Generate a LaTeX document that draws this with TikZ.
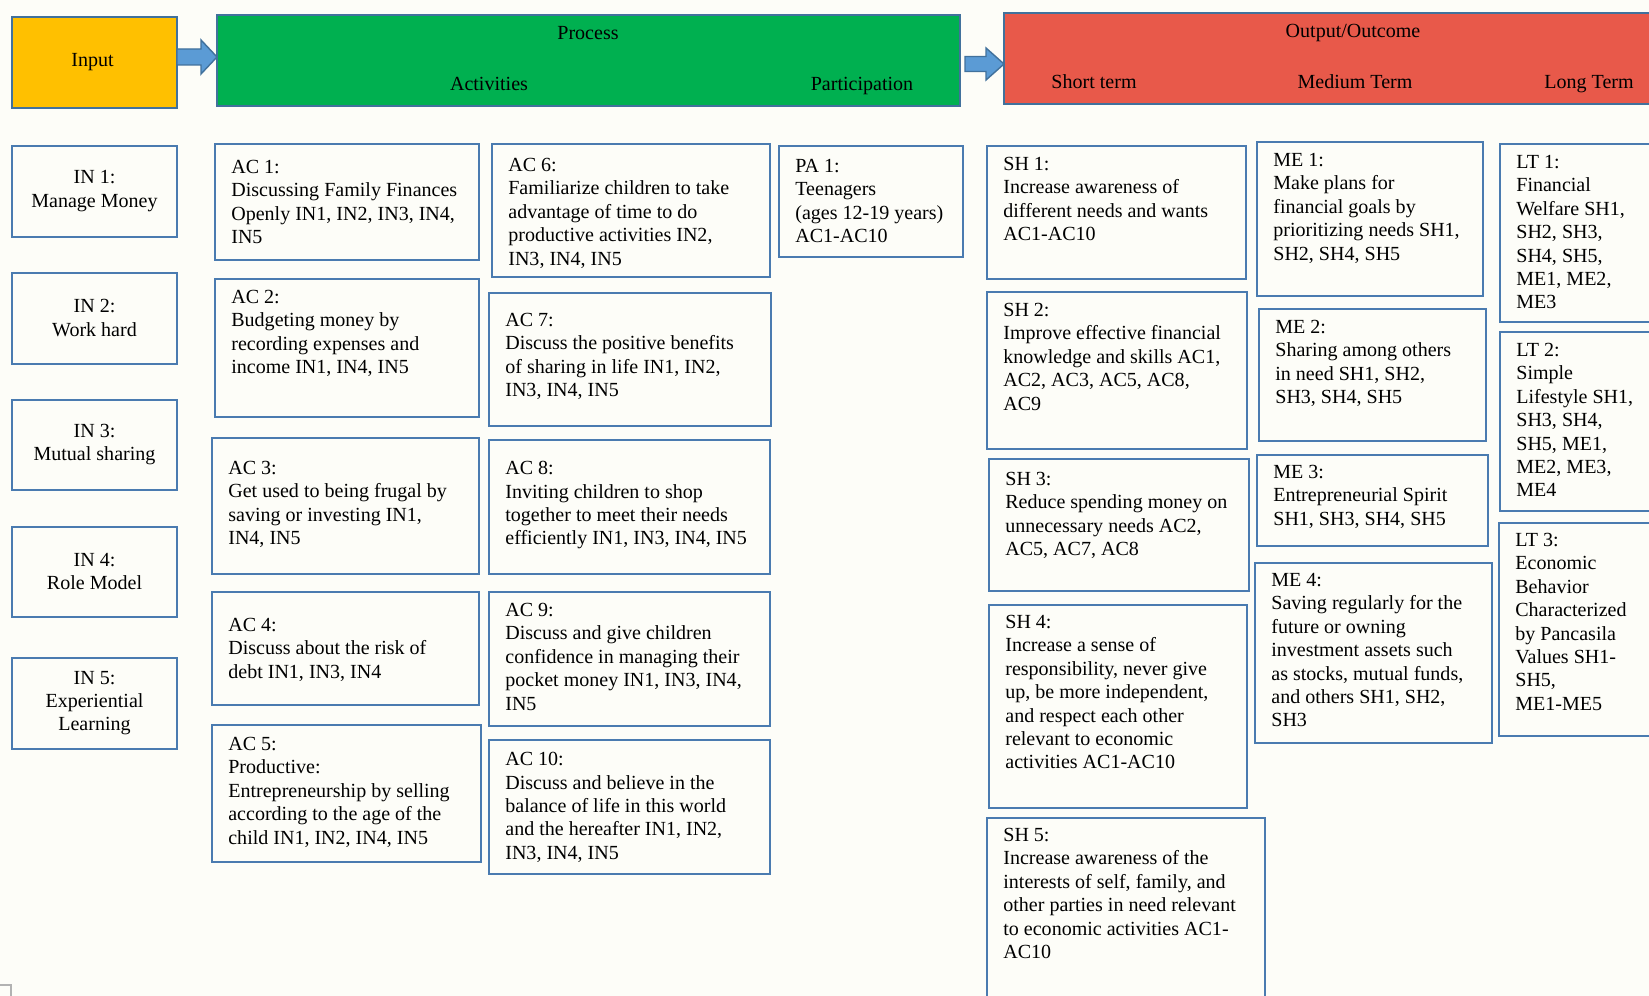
\documentclass[tikz,border=0pt]{standalone}
\usepackage{fontspec}
\setmainfont{Liberation Serif}
\usetikzlibrary{fit,calc}
\definecolor{bg}{HTML}{FDFDF8}
\definecolor{bxblue}{HTML}{4A7BB0}
\definecolor{hdborder}{HTML}{41719C}
\definecolor{inorange}{HTML}{FFC000}
\definecolor{prgreen}{HTML}{00B050}
\definecolor{outred}{HTML}{E8594A}
\definecolor{arrowfill}{HTML}{5B9BD5}
\newcommand\fs{\fontsize{11.4}{13.3}\selectfont}
\tikzset{
  frame/.style={draw=bxblue, line width=1.1pt, inner sep=0pt, outer sep=0pt},
  header/.style={draw=hdborder, line width=1.1pt, inner sep=0pt, outer sep=0pt},
  txt/.style={inner sep=0pt, align=left, anchor=north west, font=\fs},
  ctxt/.style={inner sep=0pt, align=center, font=\fs},
  blockarrow/.style={fill=arrowfill, draw=hdborder, line width=0.8pt, line join=miter},
}
\newcommand\tb[7]{%
  \node[frame, fit={(#2,#3) (#4,#5)}] (#1) {};
  \node[txt] (#1-t) at ([shift={(16,#6)}]#1.north west) {#7};
}
\newcommand\inb[4]{%
  \node[frame, fit={(12,#2) (177,#3)}] (#1) {};
  \node[ctxt] (#1-t) at ([yshift=0.01cm]#1.center) {#4};
}
\begin{document}
\begin{tikzpicture}[x=0.02cm, y=-0.02cm]
\useasboundingbox (0,0) rectangle (1649,996);
\fill[bg] (0,0) rectangle (1649,996);
\clip (0,0) rectangle (1649,996);

% headers
\node[header, fill=inorange, fit={(12,17) (177,108)}] (inp) {};
\node[ctxt] (inp-t) at ([xshift=-0.04cm]inp.center) {Input};
\node[header, fill=prgreen, fit={(217,15) (960,106)}] (proc) {};
\node[ctxt] (proc-t) at (588,33) {Process};
\node[ctxt] (act-t) at (489,84) {Activities};
\node[ctxt] (part-t) at (862,86) {Participation};
\node[header, fill=outred, fit={(1004,13) (1700,104)}] (outc) {};
\node[ctxt] (outc-t) at (1353,33) {Output/Outcome};
\node[ctxt] (st-t) at (1094,82) {Short term};
\node[ctxt] (mt-t) at (1355,82) {Medium Term};
\node[ctxt] (lt-t) at (1589,84) {Long Term};

% block arrows
\filldraw[blockarrow] (inp.east) ++(0,-5.5) ++(0,-8) -- ++(24,0) -- ++(0,-9) -- ++(16,17) -- ++(-16,17) -- ++(0,-9) -- ++(-24,0) -- cycle;
\filldraw[blockarrow] (proc.east) ++(5,3.5) ++(0,-7.5) -- ++(21,0) -- ++(0,-8.5) -- ++(18,16) -- ++(-18,16) -- ++(0,-8.5) -- ++(-21,0) -- cycle;

% input column
\inb{in1}{146}{237}{IN 1:\\Manage Money}
\inb{in2}{273}{364}{IN 2:\\Work hard}
\inb{in3}{400}{490}{IN 3:\\Mutual sharing}
\inb{in4}{527}{617}{IN 4:\\Role Model}
\inb{in5}{658}{749}{IN 5:\\Experiential\\Learning}

% activities
\tb{ac1}{215}{144}{479}{260}{16}{AC 1:\\Discussing Family Finances\\Openly IN1, IN2, IN3, IN4,\\IN5}
\tb{ac2}{215}{279}{479}{417}{11}{AC 2:\\Budgeting money by\\recording expenses and\\income IN1, IN4, IN5}
\tb{ac3}{212}{438}{479}{574}{23}{AC 3:\\Get used to being frugal by\\saving or investing IN1,\\IN4, IN5}
\tb{ac4}{212}{592}{479}{705}{26}{AC 4:\\Discuss about the risk of\\debt IN1, IN3, IN4}
\tb{ac5}{212}{725}{481}{862}{12}{AC 5:\\Productive:\\Entrepreneurship by selling\\according to the age of the\\child IN1, IN2, IN4, IN5}
\tb{ac6}{492}{144}{770}{277}{14}{AC 6:\\Familiarize children to take\\advantage of time to do\\productive activities IN2,\\IN3, IN4, IN5}
\tb{ac7}{489}{293}{771}{426}{20}{AC 7:\\Discuss the positive benefits\\of sharing in life IN1, IN2,\\IN3, IN4, IN5}
\tb{ac8}{489}{440}{770}{574}{21}{AC 8:\\Inviting children to shop\\together to meet their needs\\efficiently IN1, IN3, IN4, IN5}
\tb{ac9}{489}{592}{770}{726}{11}{AC 9:\\Discuss and give children\\confidence in managing their\\pocket money IN1, IN3, IN4,\\IN5}
\tb{ac10}{489}{740}{770}{874}{12}{AC 10:\\Discuss and believe in the\\balance of life in this world\\and the hereafter IN1, IN2,\\IN3, IN4, IN5}
\tb{pa1}{779}{146}{963}{257}{13}{PA 1:\\Teenagers\\(ages 12-19 years)\\AC1-AC10}

% short term
\tb{sh1}{987}{146}{1246}{279}{11}{SH 1:\\Increase awareness of\\different needs and wants\\AC1-AC10}
\tb{sh2}{987}{292}{1247}{449}{11}{SH 2:\\Improve effective financial\\knowledge and skills AC1,\\AC2, AC3, AC5, AC8,\\AC9}
\tb{sh3}{989}{459}{1249}{591}{13}{SH 3:\\Reduce spending money on\\unnecessary needs AC2,\\AC5, AC7, AC8}
\tb{sh4}{989}{605}{1247}{808}{10}{SH 4:\\Increase a sense of\\responsibility, never give\\up, be more independent,\\and respect each other\\relevant to economic\\activities AC1-AC10}
\tb{sh5}{987}{818}{1265}{1010}{10}{SH 5:\\Increase awareness of the\\interests of self, family, and\\other parties in need relevant\\to economic activities AC1-\\AC10}

% medium term
\tb{me1}{1257}{142}{1483}{296}{11}{ME 1:\\Make plans for\\financial goals by\\prioritizing needs SH1,\\SH2, SH4, SH5}
\tb{me2}{1259}{309}{1486}{441}{11}{ME 2:\\Sharing among others\\in need SH1, SH2,\\SH3, SH4, SH5}
\tb{me3}{1257}{455}{1488}{546}{10}{ME 3:\\Entrepreneurial Spirit\\SH1, SH3, SH4, SH5}
\tb{me4}{1255}{563}{1492}{743}{10}{ME 4:\\Saving regularly for the\\future or owning\\investment assets such\\as stocks, mutual funds,\\and others SH1, SH2,\\SH3}

% long term
\tb{lt1}{1500}{144}{1700}{322}{11}{LT 1:\\Financial\\Welfare SH1,\\SH2, SH3,\\SH4, SH5,\\ME1, ME2,\\ME3}
\tb{lt2}{1500}{332}{1700}{511}{11}{LT 2:\\Simple\\Lifestyle SH1,\\SH3, SH4,\\SH5, ME1,\\ME2, ME3,\\ME4}
\tb{lt3}{1499}{523}{1700}{736}{10}{LT 3:\\Economic\\Behavior\\Characterized\\by Pancasila\\Values SH1-\\SH5,\\ME1-ME5}

% corner mark
\draw[gray!60, line width=0.8pt] (0,985) -- (11,985) -- (11,996);
\end{tikzpicture}
\end{document}
